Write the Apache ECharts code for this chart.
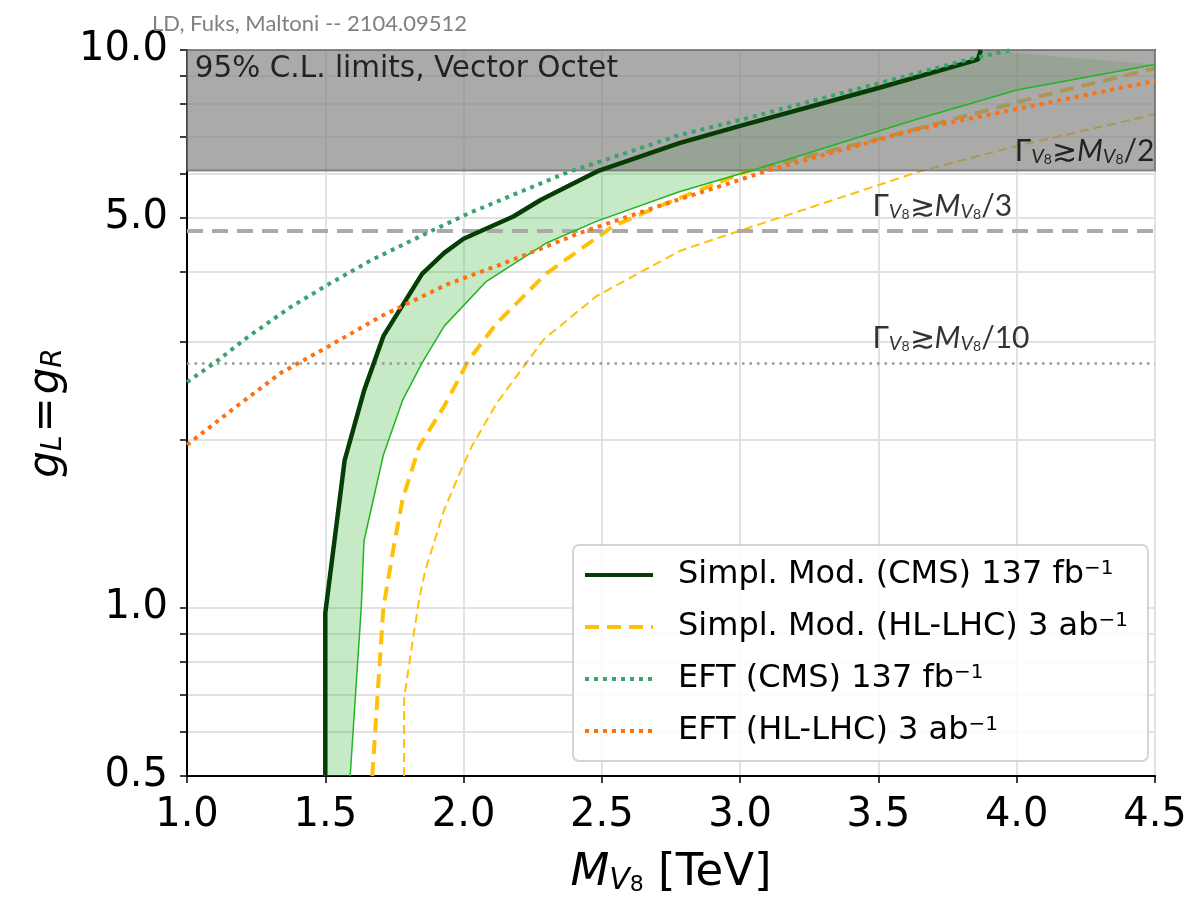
<!DOCTYPE html>
<html>
<head>
<meta charset="utf-8">
<title>Vector octet limits</title>
<script src="https://cdn.jsdelivr.net/npm/echarts@6/dist/echarts.min.js"></script>
<style>
  html, body { margin: 0; padding: 0; background: #fff; }
  #chart { width: 1204px; height: 901px; }
</style>
</head>
<body>
<div id="chart"></div>
<script>
// x = M_V8 [TeV], y = g_L = g_R

// Simpl. Mod. (CMS) 137 fb-1, thick edge and thin edge of the band
const simplCmsX = [1.50, 1.50, 1.57, 1.64, 1.71, 1.85, 1.93, 2.00, 2.18, 2.28, 2.49, 2.78, 3.00, 3.50, 3.84, 3.86, 3.87]
const simplCmsY = [0.50, 0.98, 1.84, 2.45, 3.07, 3.97, 4.33, 4.59, 5.03, 5.39, 6.08, 6.81, 7.31, 8.55, 9.55, 9.62, 10.0]
const simplCmsEdgeX = [1.59, 1.63, 1.64, 1.71, 1.78, 1.85, 1.93, 2.08, 2.30, 2.48, 2.78, 3.06, 3.63, 4.00, 4.50]
const simplCmsEdgeY = [0.50, 1.00, 1.32, 1.88, 2.36, 2.75, 3.20, 3.84, 4.51, 4.93, 5.57, 6.12, 7.49, 8.48, 9.42]

// Simpl. Mod. (HL-LHC) 3 ab-1, thick and thin dashed
const simplHlX = [1.67, 1.69, 1.71, 1.75, 1.78, 1.84, 1.93, 2.02, 2.12, 2.30, 2.54, 2.72, 3.02, 3.50, 4.10, 4.50]
const simplHlY = [0.50, 0.71, 1.00, 1.31, 1.57, 1.95, 2.30, 2.79, 3.24, 3.98, 4.83, 5.28, 6.05, 6.93, 8.30, 9.27]
const simplHlWideX = [1.785, 1.785, 1.82, 1.84, 1.86, 1.93, 2.00, 2.03, 2.12, 2.29, 2.48, 2.78, 2.90, 3.65, 3.99, 4.50]
const simplHlWideY = [0.50, 0.69, 0.90, 1.04, 1.16, 1.50, 1.81, 1.95, 2.33, 3.03, 3.62, 4.36, 4.57, 6.06, 6.71, 7.67]

// EFT
const eftCmsX = [1.00, 1.10, 1.22, 1.37, 1.51, 1.67, 1.88, 2.02, 2.37, 2.78, 3.00, 3.84, 3.98]
const eftCmsY = [2.54, 2.75, 3.06, 3.45, 3.80, 4.21, 4.73, 5.10, 6.02, 7.04, 7.49, 9.66, 10.0]
const eftHlX = [1.00, 1.16, 1.34, 1.51, 1.70, 1.94, 2.18, 2.42, 2.72, 3.11, 3.63, 4.50]
const eftHlY = [1.96, 2.26, 2.64, 2.94, 3.33, 3.80, 4.21, 4.70, 5.28, 6.10, 7.19, 8.80]

// width bands
const bandFrom = 6.08
const bandTo = 10
const widthThird = 4.75
const widthTenth = 2.74

// annotations
const noteX = [4.5, 3.48, 3.48]
const noteY = [6.17, 4.92, 2.85]
const noteText = ['/2', '/3', '/10']
const titleX = 1.03
const titleY = 9.21

// axes
const xMin = 1.0
const xMax = 4.5
const xStep = 0.5
const yMin = 0.5
const yMax = 10
const yTickVals = [0.5, 0.6, 0.7, 0.8, 0.9, 1, 2, 3, 4, 5, 6, 7, 8, 9, 10]
const yLabelVals = [0.5, 1, 5, 10]

const nameCms = 'Simpl. Mod. (CMS) 137 fb⁻¹'
const nameHl = 'Simpl. Mod. (HL-LHC) 3 ab⁻¹'
const nameEftCms = 'EFT (CMS) 137 fb⁻¹'
const nameEftHl = 'EFT (HL-LHC) 3 ab⁻¹'

const FONT = 'DejaVu Sans'
const zip = (xs, ys) => xs.map((x, i) => [x, ys[i]])

const chart = echarts.init(document.getElementById('chart'), null, { renderer: 'canvas' })

const gammaRich = {
  g: { fontFamily: 'Lato', fontSize: 30, lineHeight: 34, color: '#000', verticalAlign: 'bottom' },
  m: { fontFamily: 'Lato', fontSize: 30, lineHeight: 34, fontStyle: 'italic', color: '#000', verticalAlign: 'bottom' },
  s: { fontFamily: 'Lato', fontSize: 20, lineHeight: 14, fontStyle: 'italic', color: '#000', verticalAlign: 'bottom' },
  t: { fontFamily: 'Lato', fontSize: 14, lineHeight: 6, color: '#000', verticalAlign: 'bottom' }
}

const notes = noteX.map((x, i) => ({
  value: [x, noteY[i]],
  label: {
    show: true,
    position: [0, 0],
    align: i === 0 ? 'right' : 'left',
    verticalAlign: 'bottom',
    formatter: '{g|Γ}{s|V}{t|8}{g|≳}{m|M}{s|V}{t|8}{g|' + noteText[i] + '}',
    rich: gammaRich
  }
}))
notes.push({
  value: [titleX, titleY],
  label: {
    show: true,
    position: [0, 0],
    align: 'left',
    verticalAlign: 'middle',
    formatter: '95% C.L. limits, Vector Octet',
    fontFamily: FONT,
    fontSize: 29.5,
    color: '#000'
  }
})

const option = {
  animation: false,
  backgroundColor: '#fff',
  title: {
    text: 'LD, Fuks, Maltoni -- 2104.09512',
    left: 152,
    top: 13,
    padding: 0,
    textStyle: { fontFamily: 'Lato', fontSize: 22, fontWeight: 'normal', color: '#808080' }
  },
  grid: {
    left: 187, right: 49, top: 50, bottom: 124,
    show: true, borderColor: '#000', borderWidth: 2, backgroundColor: 'transparent'
  },
  legend: {
    data: [nameCms, nameHl, nameEftCms, nameEftHl],
    orient: 'vertical',
    left: 573,
    top: 545,
    padding: [14, 20, 14, 10],
    itemGap: 20,
    itemWidth: 68,
    itemHeight: 20,
    itemStyle: { opacity: 0 },
    lineStyle: { width: 4 },
    backgroundColor: 'rgba(255,255,255,0.85)',
    borderColor: '#d4d4d4',
    borderWidth: 2,
    borderRadius: 6,
    formatter: name => name.replace('⁻¹', '{s|−1}'),
    textStyle: {
      fontFamily: FONT, fontSize: 32, lineHeight: 32, color: '#000', padding: [0, 0, 0, 20],
      rich: {
        s: { fontFamily: FONT, fontSize: 20, lineHeight: 22, color: '#000', verticalAlign: 'top' }
      }
    }
  },
  xAxis: {
    type: 'value',
    min: xMin, max: xMax, interval: xStep,
    name: '{m|M}{s|V}{t|8}{r| [TeV]}',
    nameLocation: 'middle',
    nameGap: 70,
    nameTextStyle: {
      rich: {
        m: { fontFamily: FONT, fontSize: 45, lineHeight: 50, fontStyle: 'italic', color: '#000', verticalAlign: 'bottom' },
        s: { fontFamily: FONT, fontSize: 30, lineHeight: 20, fontStyle: 'italic', color: '#000', verticalAlign: 'bottom' },
        t: { fontFamily: FONT, fontSize: 22, lineHeight: 6, color: '#000', verticalAlign: 'bottom' },
        r: { fontFamily: FONT, fontSize: 45, lineHeight: 50, color: '#000', verticalAlign: 'bottom' }
      }
    },
    axisLine: { lineStyle: { color: '#000', width: 2 } },
    axisTick: { length: 7, lineStyle: { color: '#000', width: 1.5 } },
    axisLabel: { fontFamily: FONT, fontSize: 40, color: '#000', margin: 20, formatter: v => v.toFixed(1) },
    splitLine: { lineStyle: { color: '#e2e2e2', width: 2 } }
  },
  yAxis: {
    type: 'log',
    logBase: 10,
    min: yMin, max: yMax,
    name: '{g|g}{s|L}{e|=}{g|g}{s|R}',
    nameLocation: 'middle',
    nameRotate: 90,
    nameGap: 118,
    nameTextStyle: {
      rich: {
        g: { fontFamily: FONT, fontSize: 42, lineHeight: 46, fontStyle: 'italic', color: '#000', verticalAlign: 'bottom' },
        s: { fontFamily: FONT, fontSize: 28, lineHeight: 18, fontStyle: 'italic', color: '#000', verticalAlign: 'bottom' },
        e: { fontFamily: FONT, fontSize: 42, lineHeight: 46, color: '#000', verticalAlign: 'bottom', padding: [0, 3, 0, 3] }
      }
    },
    axisLine: { show: true, lineStyle: { color: '#000', width: 2 } },
    axisTick: { show: true, length: 7, customValues: yTickVals, lineStyle: { color: '#000', width: 1.5 } },
    axisLabel: { fontFamily: FONT, fontSize: 40, color: '#000', margin: 19, customValues: yLabelVals, formatter: v => Number(v).toFixed(1) },
    splitLine: { show: true, lineStyle: { color: '#e2e2e2', width: 2 } }
  },
  series: [
    {
      // shaded band between the two CMS edges
      type: 'custom',
      name: 'cms band',
      z: 1,
      silent: true,
      data: [[simplCmsX[0], simplCmsY[0]]],
      renderItem: (params, api) => {
        const pts = zip(simplCmsX, simplCmsY).map(p => api.coord(p))
          .concat(zip(simplCmsEdgeX, simplCmsEdgeY).map(p => api.coord(p)).reverse())
        return {
          type: 'polygon',
          shape: { points: pts },
          style: { fill: 'rgba(60,180,60,0.29)' },
          clipPath: { type: 'rect', shape: { x: params.coordSys.x, y: params.coordSys.y, width: params.coordSys.width, height: params.coordSys.height } }
        }
      }
    },
    {
      type: 'line', name: nameHl, z: 2, symbol: 'none',
      data: zip(simplHlX, simplHlY),
      lineStyle: { color: '#ffc107', width: 4, type: [14, 8] },
      itemStyle: { color: '#ffc107' }
    },
    {
      type: 'line', name: nameHl, z: 2, symbol: 'none',
      data: zip(simplHlWideX, simplHlWideY),
      lineStyle: { color: '#ffc107', width: 2, type: [9, 5] },
      itemStyle: { color: '#ffc107' }
    },
    {
      // grey region and width reference lines
      type: 'line', name: 'width', data: [], z: 3, silent: true,
      markArea: {
        silent: true,
        z: 3,
        itemStyle: { color: 'rgba(128,130,126,0.67)', borderColor: 'rgba(100,100,100,0.7)', borderWidth: 2 },
        data: [[{ yAxis: bandFrom }, { yAxis: bandTo }]]
      },
      markLine: {
        silent: true,
        z: 3,
        symbol: 'none',
        label: { show: false },
        data: [
          { yAxis: widthThird, lineStyle: { color: '#aaaaaa', width: 4, type: [16, 9] } },
          { yAxis: widthTenth, lineStyle: { color: '#999999', width: 2.5, type: [2.5, 5] } }
        ]
      }
    },
    {
      type: 'line', name: nameCms, z: 4, symbol: 'none',
      data: zip(simplCmsX, simplCmsY),
      lineStyle: { color: '#053d05', width: 4.5 },
      itemStyle: { color: '#053d05' }
    },
    {
      type: 'line', name: nameCms, z: 4, symbol: 'none',
      data: zip(simplCmsEdgeX, simplCmsEdgeY),
      lineStyle: { color: '#22b422', width: 1.5 },
      itemStyle: { color: '#22b422' }
    },
    {
      type: 'line', name: nameEftCms, z: 4, symbol: 'none',
      data: zip(eftCmsX, eftCmsY),
      lineStyle: { color: '#3ca36e', width: 4, type: [4, 5] },
      itemStyle: { color: '#3ca36e' }
    },
    {
      type: 'line', name: nameEftHl, z: 4, symbol: 'none',
      data: zip(eftHlX, eftHlY),
      lineStyle: { color: '#ff7010', width: 4, type: [4, 5] },
      itemStyle: { color: '#ff7010' }
    },
    {
      type: 'scatter', name: 'notes', z: 5, silent: true,
      symbolSize: 1,
      itemStyle: { color: 'rgba(0,0,0,0)' },
      data: notes
    }
  ]
}

chart.setOption(option)
</script>
</body>
</html>
